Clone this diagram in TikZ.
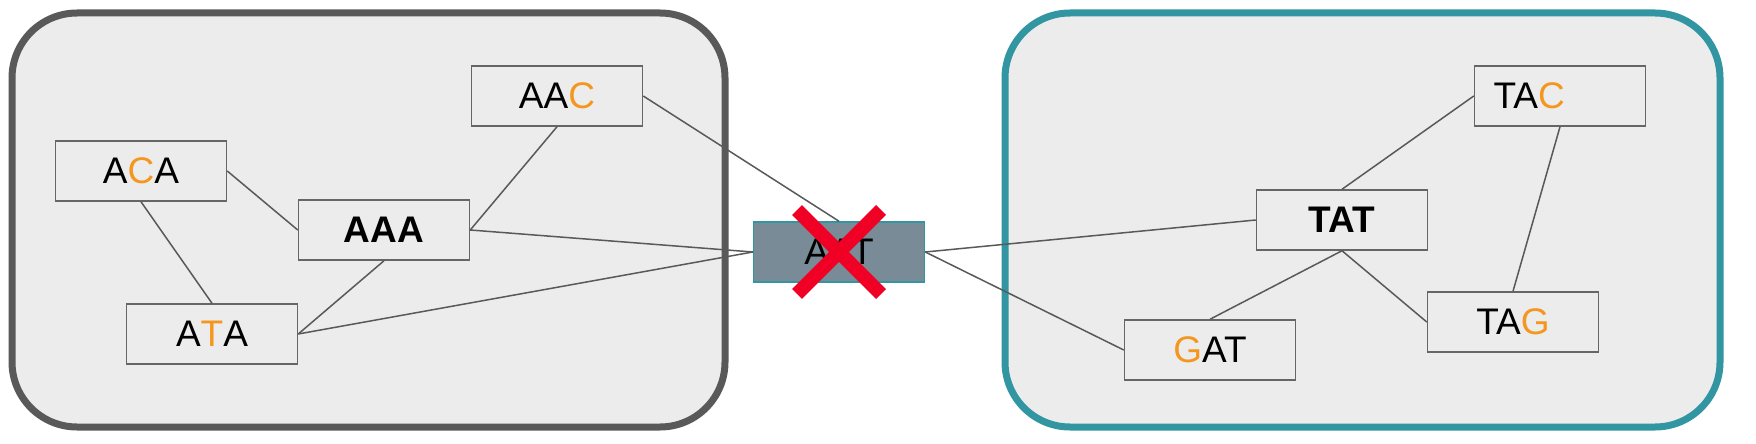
\documentclass[tikz,border=0pt]{standalone}
\usepackage{fontspec}
\setmainfont{Liberation Sans}
\definecolor{groupgray}{RGB}{89,89,89}
\definecolor{groupteal}{RGB}{49,150,161}
\definecolor{groupfill}{RGB}{236,236,236}
\definecolor{kmerline}{RGB}{102,102,102}
\definecolor{kmerslate}{RGB}{120,139,150}
\definecolor{snporange}{RGB}{245,150,30}
\definecolor{crossred}{RGB}{240,0,36}
\newcommand{\snp}[1]{\textcolor{snporange}{#1}}
\tikzset{
  kmer/.style={draw=kmerline, line width=1.5pt, fill=groupfill,
    minimum width=171pt, minimum height=60pt, inner sep=0pt,
    font=\fontsize{37}{40}\selectfont},
  group/.style={line width=7pt, fill=groupfill, rounded corners=65pt},
  link/.style={draw=groupgray, line width=1.5pt}
}

\begin{document}
\begin{tikzpicture}[x=1pt, y=-1pt]
  \useasboundingbox (0,0) rectangle (1756,444);

  % the two groups
  \draw [group, draw=groupgray] (12,13) rectangle (725,427);
  \draw [group, draw=groupteal] (1005,13) rectangle (1720,427);

  % left group
  \node [kmer] at (557, 96) (aac) {AA\snp{C}};
  \node [kmer] at (141,171) (aca) {A\snp{C}A};
  \node [kmer, font=\fontsize{37}{40}\selectfont\bfseries] at (384,230) (aaa) {AAA};
  \node [kmer] at (212,334) (ata) {A\snp{T}A};

  % the k-mer in between
  \node [kmer, fill=kmerslate, draw=groupteal] at (839,252) (aat) {AAT};

  % right group
  \node [kmer, text width=133pt, align=left] at (1560, 96) (tac) {TA\snp{C}};
  \node [kmer, font=\fontsize{37}{40}\selectfont\bfseries] at (1342,220) (tat) {TAT};
  \node [kmer] at (1513,322) (tag) {TA\snp{G}};
  \node [kmer] at (1210,350) (gat) {\snp{G}AT};

  % edges
  \foreach \a/\b in {aca.east/aaa.west, aca.south/ata.north, aaa.south/ata.east,
    aaa.east/aac.south, aaa.east/aat.west, ata.east/aat.west, aac.east/aat.north,
    aat.east/tat.west, aat.east/gat.west, tat.north/tac.west, tat.south/gat.north,
    tat.south/tag.west, tac.south/tag.north} {
    \draw [link] (\a) -- (\b);
  }

  % cross out
  \draw [crossred, line width=14pt] ([shift={(-42,-42)}]aat.center) -- ([shift={(42,42)}]aat.center);
  \draw [crossred, line width=14pt] ([shift={(42,-42)}]aat.center) -- ([shift={(-42,42)}]aat.center);

\end{tikzpicture}
\end{document}
